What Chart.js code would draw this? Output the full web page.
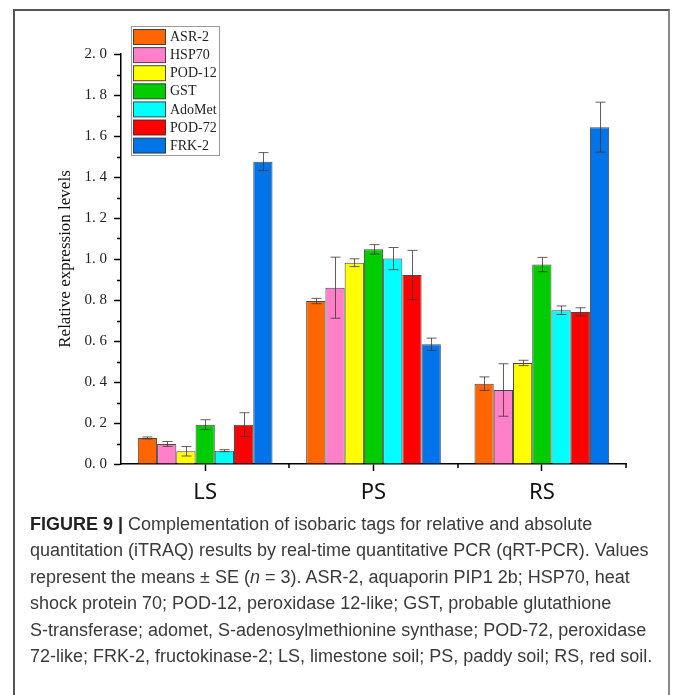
<!DOCTYPE html>
<html>
<head>
    <title>Figure 9 - qRT-PCR</title>
    <script src="https://cdn.jsdelivr.net/npm/chart.js"></script>
    <style>
        body {
            margin: 0;
            background: #fff;
        }
        .frame {
            position: absolute;
            left: 13px;
            top: 9px;
            width: 653px;
            height: 700px;
            border: 2px solid #555;
            border-right-color: #888;
            border-bottom: none;
        }
        .chart-box {
            position: absolute;
            left: 0;
            top: 0;
            width: 673px;
            height: 515px;
        }
        .caption {
            position: absolute;
            left: 30px;
            top: 511px;
            font-family: 'Liberation Sans', Arial, sans-serif;
            font-size: 18px;
            line-height: 26.4px;
            color: #3a3a3a;
            white-space: nowrap;
        }
        .caption b {
            color: #222;
        }
    </style>
</head>
<body>
    <div class="frame"></div>
    <div class="chart-box">
        <canvas id="expressionChart"></canvas>
    </div>
    <div class="caption">
        <b>FIGURE 9 |</b> Complementation of isobaric tags for relative and absolute<br>
        quantitation (iTRAQ) results by real-time quantitative PCR (qRT-PCR). Values<br>
        represent the means &plusmn; SE (<i>n</i> = 3). ASR-2, aquaporin PIP1 2b; HSP70, heat<br>
        shock protein 70; POD-12, peroxidase 12-like; GST, probable glutathione<br>
        S-transferase; adomet, S-adenosylmethionine synthase; POD-72, peroxidase<br>
        72-like; FRK-2, fructokinase-2; LS, limestone soil; PS, paddy soil; RS, red soil.
    </div>

    <script>
        // soils on the x axis
        const soils = ['LS', 'PS', 'RS'];

        // genes (one series each)
        const genes = ['ASR-2', 'HSP70', 'POD-12', 'GST', 'AdoMet', 'POD-72', 'FRK-2'];
        const geneColors = ['#ff6600', '#ff80c8', '#ffff00', '#00cc00', '#00ffff', '#ff0000', '#0074e8'];

        // mean relative expression, order LS, PS, RS
        const asr2   = [0.127, 0.795, 0.392];
        const hsp70  = [0.098, 0.860, 0.361];
        const pod12  = [0.062, 0.982, 0.493];
        const gst    = [0.192, 1.047, 0.973];
        const adomet = [0.065, 1.002, 0.750];
        const pod72  = [0.192, 0.922, 0.742];
        const frk2   = [1.475, 0.584, 1.643];

        // standard errors, same order
        const asr2Err   = [0.005, 0.013, 0.033];
        const hsp70Err  = [0.012, 0.149, 0.128];
        const pod12Err  = [0.023, 0.019, 0.013];
        const gstErr    = [0.024, 0.023, 0.035];
        const adometErr = [0.005, 0.054, 0.021];
        const pod72Err  = [0.058, 0.120, 0.020];
        const frk2Err   = [0.044, 0.030, 0.122];

        // y axis ticks
        const yTicks = [0.0, 0.2, 0.4, 0.6, 0.8, 1.0, 1.2, 1.4, 1.6, 1.8, 2.0];
        const yMinorTicks = [0.1, 0.3, 0.5, 0.7, 0.9, 1.1, 1.3, 1.5, 1.7, 1.9];

        const means = [asr2, hsp70, pod12, gst, adomet, pod72, frk2];
        const errors = [asr2Err, hsp70Err, pod12Err, gstErr, adometErr, pod72Err, frk2Err];

        var datasets = genes.map(function(name, i) {
            return {
                label: name,
                data: means[i],
                errors: errors[i],
                backgroundColor: geneColors[i],
                borderColor: 'rgba(40, 40, 40, 0.85)',
                borderWidth: 1,
                borderSkipped: 'bottom',
                categoryPercentage: 0.8,
                barPercentage: 1.0
            };
        });

        // error bars drawn over each bar
        const errorBars = {
            id: 'errorBars',
            afterDatasetsDraw(chart) {
                const ctx = chart.ctx;
                const y = chart.scales.y;
                ctx.save();
                ctx.strokeStyle = 'rgba(70, 50, 50, 0.8)';
                ctx.lineWidth = 1;
                chart.data.datasets.forEach(function(ds, i) {
                    chart.getDatasetMeta(i).data.forEach(function(bar, j) {
                        const hi = y.getPixelForValue(ds.data[j] + ds.errors[j]);
                        const lo = y.getPixelForValue(ds.data[j] - ds.errors[j]);
                        const x = Math.round(bar.x) + 0.5;
                        ctx.beginPath();
                        ctx.moveTo(x, hi);
                        ctx.lineTo(x, lo);
                        ctx.moveTo(x - 5, hi);
                        ctx.lineTo(x + 5, hi);
                        ctx.moveTo(x - 5, lo);
                        ctx.lineTo(x + 5, lo);
                        ctx.stroke();
                    });
                });
                ctx.restore();
            }
        };

        // minor ticks on y, boundary ticks on x
        const minorTicks = {
            id: 'minorTicks',
            afterDraw(chart) {
                const ctx = chart.ctx;
                const y = chart.scales.y;
                const area = chart.chartArea;
                ctx.save();
                ctx.strokeStyle = '#000';
                ctx.lineWidth = 1.5;
                ctx.beginPath();
                yMinorTicks.forEach(function(v) {
                    const py = Math.round(y.getPixelForValue(v)) + 0.5;
                    ctx.moveTo(area.left - 4, py);
                    ctx.lineTo(area.left, py);
                });
                const step = (area.right - area.left) / soils.length;
                for (let i = 1; i <= soils.length; i++) {
                    const px = Math.round(area.left + i * step);
                    ctx.moveTo(px, area.bottom);
                    ctx.lineTo(px, area.bottom + 4);
                }
                ctx.stroke();
                ctx.restore();
            }
        };

        // boxed legend in the top left corner of the plot
        const boxLegend = {
            id: 'boxLegend',
            afterDraw(chart) {
                const ctx = chart.ctx;
                const area = chart.chartArea;
                const left = area.left + 10;
                const top = area.top - 28;
                const rowH = 18.1;
                ctx.save();
                ctx.fillStyle = '#fff';
                ctx.fillRect(left, top, 88, 129);
                ctx.strokeStyle = '#999';
                ctx.lineWidth = 1;
                ctx.strokeRect(left + 0.5, top + 0.5, 88, 129);
                ctx.font = '14px "Liberation Serif", "Times New Roman", serif';
                ctx.textBaseline = 'middle';
                chart.data.datasets.forEach(function(ds, i) {
                    const sy = top + 3.5 + i * rowH;
                    ctx.fillStyle = ds.backgroundColor;
                    ctx.fillRect(left + 2.5, sy, 32, 15);
                    ctx.strokeStyle = 'rgba(40, 40, 40, 0.85)';
                    ctx.strokeRect(left + 2.5, sy, 32, 15);
                    ctx.fillStyle = '#222';
                    ctx.fillText(ds.label, left + 39, sy + 8);
                });
                ctx.restore();
            }
        };

        var ctx = document.getElementById('expressionChart').getContext('2d');
        var expressionChart = new Chart(ctx, {
            type: 'bar',
            data: {
                labels: soils,
                datasets: datasets
            },
            plugins: [errorBars, minorTicks, boxLegend],
            options: {
                responsive: true,
                maintainAspectRatio: false,
                animation: false,
                layout: {
                    padding: { left: 0, right: 47, top: 54, bottom: 0 }
                },
                plugins: {
                    legend: { display: false },
                    tooltip: { enabled: false }
                },
                scales: {
                    x: {
                        offset: true,
                        grid: {
                            offset: false,
                            drawOnChartArea: false,
                            tickLength: 7,
                            tickColor: '#000',
                            tickWidth: 1.5
                        },
                        border: { color: '#000', width: 1.5 },
                        ticks: {
                            color: '#111',
                            padding: 9,
                            font: { family: "'Noto Sans', sans-serif", size: 22 }
                        },
                        afterFit: function(scale) { scale.height = 51; }
                    },
                    y: {
                        min: 0,
                        max: 2.0,
                        afterBuildTicks: function(scale) {
                            scale.ticks = yTicks.map(function(v) { return { value: v }; });
                        },
                        grid: {
                            drawOnChartArea: false,
                            tickLength: 7,
                            tickColor: '#000',
                            tickWidth: 1.5
                        },
                        border: { color: '#000', width: 1.5 },
                        ticks: {
                            color: '#222',
                            padding: 7,
                            font: { family: "'Liberation Serif', serif", size: 15 },
                            callback: function(v) { return v.toFixed(1).replace('.', '. '); }
                        },
                        title: {
                            display: true,
                            text: 'Relative expression levels',
                            color: '#111',
                            padding: { top: 55, bottom: 0 },
                            font: { family: "'Liberation Serif', serif", size: 17 }
                        },
                        afterFit: function(scale) { scale.width = 121; }
                    }
                }
            }
        });
    </script>
</body>
</html>
